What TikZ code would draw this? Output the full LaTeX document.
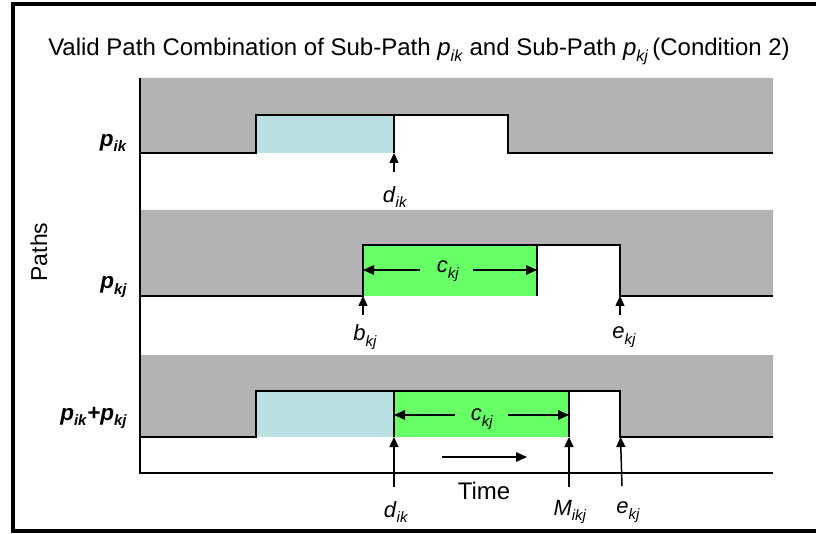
\documentclass[tikz,border=0pt]{standalone}
\usepackage{fontspec}
\setmainfont{Liberation Sans}
\usetikzlibrary{arrows.meta}
\newcommand\sbl[2]{\textit{#1}\raisebox{-0.25em}{\fontsize{15}{16}\selectfont\textit{#2}}}
\newcommand\sbb[2]{\textbf{\textit{#1}}\raisebox{-0.25em}{\fontsize{15}{16}\selectfont\textbf{\textit{#2}}}}
\newcommand\sbt[2]{\textit{#1}\raisebox{-0.25em}{\fontsize{16}{17}\selectfont\textit{#2}}}
\definecolor{bandgray}{RGB}{179,179,179}
\definecolor{cyanfill}{RGB}{185,224,227}
\definecolor{greenfill}{RGB}{102,255,102}
\begin{document}
\begin{tikzpicture}[x=1pt,y=-1pt,
  wave/.style={line width=1.8pt,line join=miter},
  edge/.style={line width=1.8pt},
  mark arrow/.style={line width=1.5pt,-{Triangle[length=10pt,width=9pt]}},
  span arrow/.style={line width=1.5pt,-{Triangle[length=11pt,width=9.5pt]}},
  lab/.style={font=\fontsize{22}{24}\selectfont,inner sep=0pt},
  rowlab/.style={font=\fontsize{22.5}{24}\selectfont,inner sep=0pt,anchor=east}]
\useasboundingbox (0,0) rectangle (816,534);
\fill[white] (0,0) rectangle (816,534);
% outer frame
\draw[line width=4pt] (830,4.5) -- (13,4.5) -- (13,531) -- (830,531);
% title
\node[inner sep=0pt,font=\fontsize{24}{26}\selectfont] (title) at (419,51)
  {Valid Path Combination of Sub-Path \sbt{p}{ik} and Sub-Path \sbt{p}{kj}\,(Condition 2)};
% ---------- row 1 ----------
\fill[bandgray] (140,78) -- (773,78) -- (773,153) -- (508,153) -- (508,115) -- (256,115) -- (256,153) -- (140,153) -- cycle;
\fill[cyanfill] (256,115) rectangle (394,153);
\draw[wave] (140,153) -- (256,153) -- (256,115) -- (508,115) -- (508,153) -- (773,153);
\coordinate (d1top) at (394,115);
\coordinate (d1) at (394,153);
\coordinate (d1t) at (394,172);
\draw[edge] (d1top) -- (d1);
\draw[mark arrow] (d1t) -- (d1);
\node[lab] (ld1) at (395,197) {\sbl{d}{ik}};
% ---------- row 2 ----------
\fill[bandgray] (140,210) -- (773,210) -- (773,296) -- (620,296) -- (620,245) -- (363,245) -- (363,296) -- (140,296) -- cycle;
\fill[greenfill] (363,245) rectangle (537,296);
\draw[wave] (140,296) -- (363,296) -- (363,245) -- (620,245) -- (620,296) -- (773,296);
\coordinate (c2top) at (537,245);
\coordinate (c2bot) at (537,296);
\draw[edge] (c2top) -- (c2bot);
\coordinate (b2) at (363,296);
\coordinate (b2t) at (363,315);
\coordinate (e2) at (620,296);
\coordinate (e2t) at (620,315);
\draw[mark arrow] (b2t) -- (b2);
\draw[mark arrow] (e2t) -- (e2);
\node[lab] (lb2) at (365,337) {\sbl{b}{kj}};
\node[lab] (le2) at (624,337) {\sbl{e}{kj}};
\node[lab] (lc2) at (448,271) {\sbl{c}{kj}};
\coordinate (c2l) at (363,270);
\coordinate (c2r) at (537,270);
\coordinate (c2la) at (420,270);
\coordinate (c2ra) at (473,270);
\draw[span arrow] (c2la) -- (c2l);
\draw[span arrow] (c2ra) -- (c2r);
% ---------- row 3 ----------
\fill[bandgray] (140,355) -- (773,355) -- (773,437) -- (620,437) -- (620,391) -- (256,391) -- (256,437) -- (140,437) -- cycle;
\fill[cyanfill] (256,391) rectangle (394,437);
\fill[greenfill] (394,391) rectangle (569,437);
\draw[wave] (140,437) -- (256,437) -- (256,391) -- (620,391) -- (620,437) -- (773,437);
\coordinate (d3top) at (394,391);
\coordinate (d3) at (394,437);
\coordinate (m3top) at (569,391);
\coordinate (m3) at (569,437);
\draw[edge] (d3top) -- (d3);
\draw[edge] (m3top) -- (m3);
\coordinate (d3t) at (394,487);
\coordinate (m3t) at (569,487);
\coordinate (e3) at (620.5,437);
\coordinate (e3t) at (622,486);
\draw[mark arrow] (d3t) -- (d3);
\draw[mark arrow] (m3t) -- (m3);
\draw[mark arrow] (e3t) -- (e3);
\node[lab] (ld3) at (396,512) {\sbl{d}{ik}};
\node[lab] (lm3) at (570,512) {\sbl{M}{ikj}};
\node[lab] (le3) at (628,512) {\sbl{e}{kj}};
\node[lab] (lc3) at (482,419) {\sbl{c}{kj}};
\coordinate (c3l) at (394,415);
\coordinate (c3r) at (569,415);
\coordinate (c3la) at (455,415);
\coordinate (c3ra) at (508,415);
\draw[span arrow] (c3la) -- (c3l);
\draw[span arrow] (c3ra) -- (c3r);
\coordinate (ta) at (442,457);
\coordinate (tb) at (527,457);
\draw[span arrow] (ta) -- (tb);
\node[inner sep=0pt,font=\fontsize{24}{26}\selectfont] (time) at (484,491) {Time};
% axes
\coordinate (axtop) at (140,78);
\coordinate (axorg) at (140,473);
\coordinate (axend) at (773,473);
\draw[edge] (axtop) -- (axorg) -- (axend);
% row labels
\node[rowlab] (r1) at (127,143) {\sbb{p}{ik}};
\node[rowlab] (r2) at (127,287) {\sbb{p}{kj}};
\node[rowlab] (r3) at (127,418) {\sbb{p}{ik}\textbf{\textit{+}}\sbb{p}{kj}};
\node[inner sep=0pt,rotate=90,font=\fontsize{23}{25}\selectfont] (paths) at (39,252) {Paths};
\end{tikzpicture}
\end{document}
